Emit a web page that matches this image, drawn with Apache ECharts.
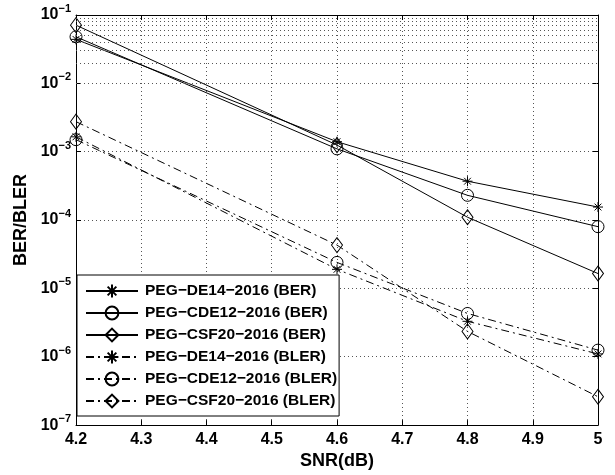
<!DOCTYPE html>
<html>
<head>
<meta charset="utf-8">
<script src="https://cdn.jsdelivr.net/npm/echarts@6/dist/echarts.min.js"></script>
<style>
  html, body { margin: 0; padding: 0; background: #fff; }
  #chart { width: 615px; height: 475px; }
</style>
</head>
<body>
<div id="chart"></div>
<script>
// SNR points (dB)
var snr = [4.2, 4.6, 4.8, 5.0];
// BER curves
var berDE14 = [0.044, 1.4e-3, 3.7e-4, 1.55e-4];
var berCDE12 = [0.048, 1.1e-3, 2.3e-4, 8.0e-5];
var berCSF20 = [0.071, 1.25e-3, 1.1e-4, 1.65e-5];
// BLER curves
var blerDE14 = [1.65e-3, 1.9e-5, 3.3e-6, 1.1e-6];
var blerCDE12 = [1.5e-3, 2.4e-5, 4.3e-6, 1.25e-6];
var blerCSF20 = [2.75e-3, 4.3e-5, 2.35e-6, 2.6e-7];

var names = [
  "PEG\u2212DE14\u22122016 (BER)",
  "PEG\u2212CDE12\u22122016 (BER)",
  "PEG\u2212CSF20\u22122016 (BER)",
  "PEG\u2212DE14\u22122016 (BLER)",
  "PEG\u2212CDE12\u22122016 (BLER)",
  "PEG\u2212CSF20\u22122016 (BLER)"
];

var FONT = "Liberation Sans";
var star = "path://M5 0L5 10M0 5L10 5M1.6 1.6L8.4 8.4M8.4 1.6L1.6 8.4";
var dashDot = [8, 4, 2, 4];

function pairs(ys) {
  return snr.map(function (x, i) { return [x, ys[i]]; });
}

function curve(name, ys, symbol, size, dashed) {
  return {
    name: name,
    type: "line",
    data: pairs(ys),
    symbol: symbol,
    symbolSize: size,
    showAllSymbol: true,
    z: 3,
    lineStyle: { color: "#000", width: 1, type: dashed ? dashDot : "solid" },
    itemStyle: { color: "rgba(0,0,0,0)", borderColor: "#000", borderWidth: 1 },
    emphasis: { disabled: true }
  };
}

// minor log grid lines (2..9 in each decade)
var minorLines = [];
for (var e = -7; e < -1; e++) {
  for (var k = 2; k <= 9; k++) {
    minorLines.push({ yAxis: k * Math.pow(10, e) });
  }
}

var gridDots = { color: "#555", width: 1, type: [1, 3] };

var chart = echarts.init(document.getElementById("chart"));
chart.setOption({
  animation: false,
  grid: { left: 76, right: 17, top: 15, bottom: 49 },
  legend: {
    data: names,
    orient: "vertical",
    left: 77,
    top: 275,
    padding: [8, 2, 7, 8],
    itemGap: 6,
    itemWidth: 52,
    itemHeight: 16,
    backgroundColor: "#fff",
    borderColor: "#000",
    borderWidth: 1,
    borderRadius: 0,
    textStyle: { fontFamily: FONT, fontSize: 15.5, fontWeight: "bold", color: "#000", padding: [0, 0, 0, 2] },
    selectedMode: false
  },
  xAxis: [{
    type: "value",
    min: 4.2,
    max: 5,
    interval: 0.1,
    name: "SNR(dB)",
    nameLocation: "middle",
    nameGap: 22,
    nameTextStyle: { fontFamily: FONT, fontSize: 18, fontWeight: "bold", color: "#000" },
    axisLine: { lineStyle: { color: "#000", width: 1 } },
    axisTick: { inside: true, length: 5, lineStyle: { color: "#000" } },
    axisLabel: {
      fontFamily: FONT, fontSize: 16, fontWeight: "bold", color: "#000", margin: 6,
      formatter: function (v) { return Math.abs(v - 5) < 1e-9 ? "5" : v.toFixed(1); }
    },
    splitLine: { show: true, lineStyle: gridDots }
  }, {
    type: "value",
    position: "top",
    min: 4.2,
    max: 5,
    interval: 0.1,
    axisLine: { show: true, lineStyle: { color: "#000", width: 1 } },
    axisTick: { show: true, inside: true, length: 5, lineStyle: { color: "#000" } },
    axisLabel: { show: false },
    splitLine: { show: false }
  }],
  yAxis: [{
    type: "log",
    logBase: 10,
    min: 1e-7,
    max: 1e-1,
    name: "BER/BLER",
    nameLocation: "middle",
    nameGap: 43,
    nameTextStyle: { fontFamily: FONT, fontSize: 18, fontWeight: "bold", color: "#000" },
    axisLine: { lineStyle: { color: "#000", width: 1 } },
    axisTick: { inside: true, length: 5, lineStyle: { color: "#000" } },
    axisLabel: {
      margin: 5,
      formatter: function (v) {
        var n = Math.round(Math.log10(v));
        return "{b|10}{e|\u2212" + Math.abs(n) + "}";
      },
      rich: {
        b: { fontFamily: FONT, fontSize: 16, fontWeight: "bold", color: "#000" },
        e: { fontFamily: FONT, fontSize: 11, fontWeight: "bold", color: "#000", padding: [0, 0, 12, 0] }
      }
    },
    splitLine: { show: true, lineStyle: gridDots }
  }, {
    type: "log",
    logBase: 10,
    position: "right",
    min: 1e-7,
    max: 1e-1,
    axisLine: { show: true, lineStyle: { color: "#000", width: 1 } },
    axisTick: { show: true, inside: true, length: 5, lineStyle: { color: "#000" } },
    axisLabel: { show: false },
    splitLine: { show: false }
  }],
  series: [
    {
      name: "minor",
      type: "line",
      data: [],
      z: 1,
      silent: true,
      markLine: {
        silent: true,
        symbol: "none",
        label: { show: false },
        animation: false,
        lineStyle: gridDots,
        emphasis: { disabled: true },
        data: minorLines
      }
    },
    curve(names[0], berDE14, star, 10, false),
    curve(names[1], berCDE12, "circle", 12, false),
    curve(names[2], berCSF20, "diamond", [11, 15], false),
    curve(names[3], blerDE14, star, 10, true),
    curve(names[4], blerCDE12, "circle", 12, true),
    curve(names[5], blerCSF20, "diamond", [11, 15], true)
  ]
});
</script>
</body>
</html>
